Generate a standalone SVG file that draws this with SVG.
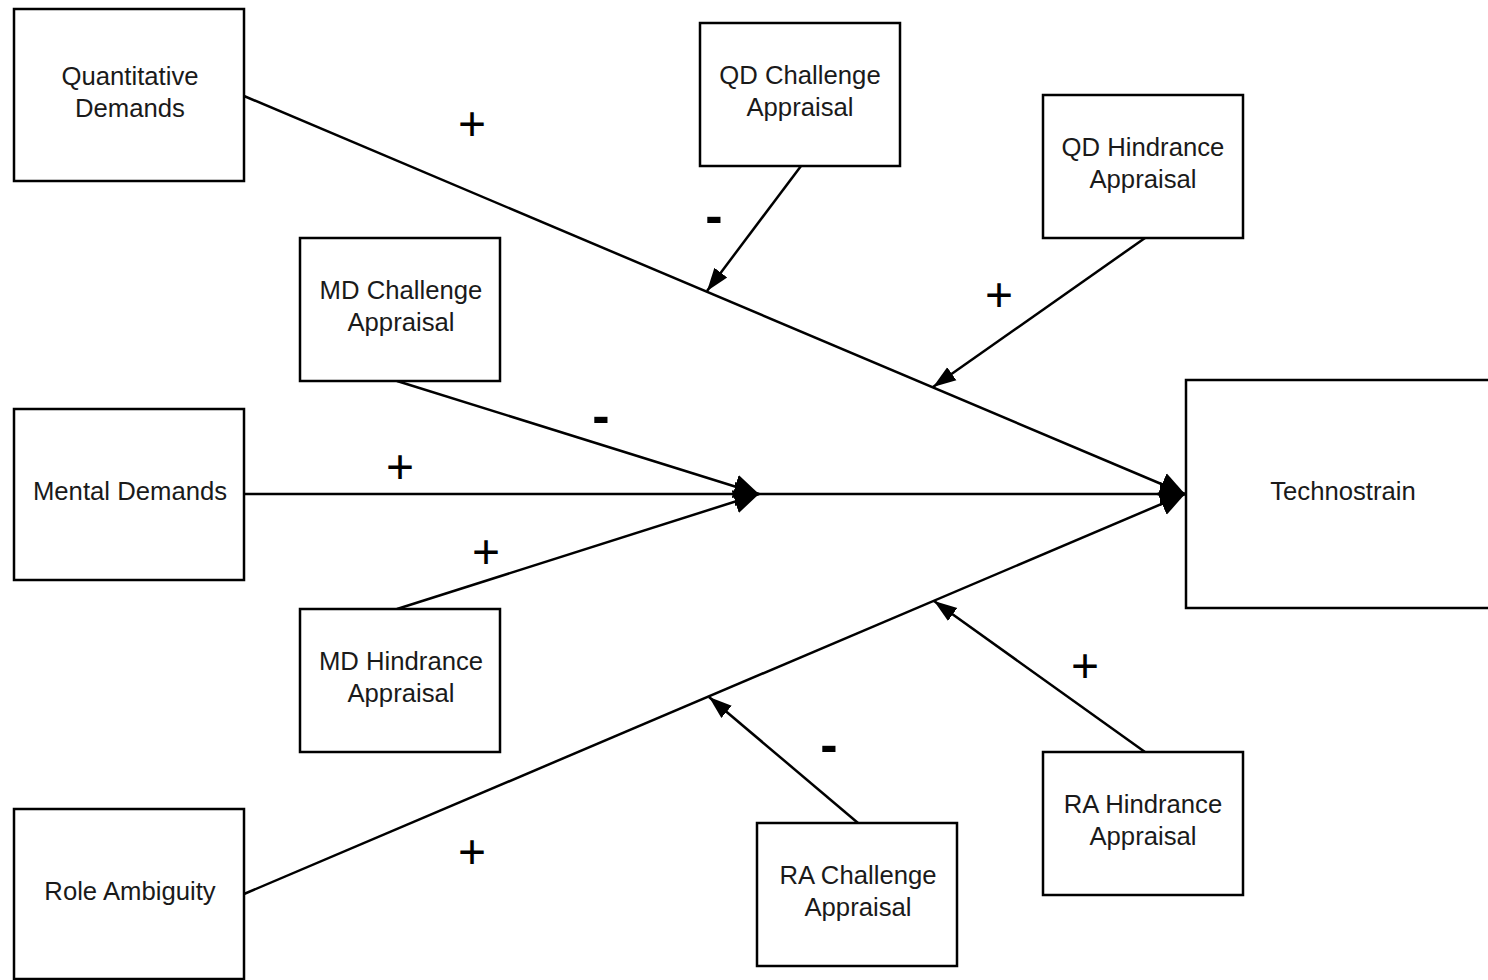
<svg xmlns="http://www.w3.org/2000/svg" width="1488" height="980" viewBox="0 0 1488 980">
<style>
.box{fill:#ffffff;stroke:#000000;stroke-width:2.5}
.lbl{font-family:"Liberation Sans",Arial,sans-serif;font-size:25.7px;fill:#1a1a1a;text-anchor:middle}
.ln{fill:none;stroke:#000000;stroke-width:2.5}
.plus{font-family:"Liberation Sans",Arial,sans-serif;font-size:48px;fill:#000000;text-anchor:middle}
.minus{font-family:"Liberation Sans",Arial,sans-serif;font-size:52px;font-weight:bold;fill:#000000;text-anchor:middle}
</style>
<defs>
<marker id="big" markerUnits="userSpaceOnUse" markerWidth="27" markerHeight="26" refX="25" refY="13" orient="auto">
<path d="M0,1 L25,13 L0,25 Z" fill="#000"/>
</marker>
<marker id="sm" markerUnits="userSpaceOnUse" markerWidth="24" markerHeight="18" refX="23" refY="9" orient="auto">
<path d="M0,1 L23,9 L0,17 Z" fill="#000"/>
</marker>
</defs>
<rect width="1488" height="980" fill="#ffffff"/>
<g id="connectors">
<line class="ln" x1="244" y1="96" x2="1185" y2="494" marker-end="url(#big)"/>
<line class="ln" x1="244" y1="894" x2="1185" y2="494" marker-end="url(#big)"/>
<line class="ln" x1="760" y1="494" x2="1185" y2="494" marker-end="url(#big)"/>
<line class="ln" x1="244" y1="494" x2="760" y2="494" marker-end="url(#big)"/>
<line class="ln" x1="397" y1="381" x2="759" y2="494" marker-end="url(#big)"/>
<line class="ln" x1="397" y1="609" x2="759" y2="494" marker-end="url(#big)"/>
<line class="ln" x1="801" y1="166" x2="707" y2="291" marker-end="url(#sm)"/>
<line class="ln" x1="1145" y1="238" x2="933" y2="387" marker-end="url(#sm)"/>
<line class="ln" x1="858" y1="823" x2="709" y2="697" marker-end="url(#sm)"/>
<line class="ln" x1="1145" y1="752" x2="934" y2="601" marker-end="url(#sm)"/>
<text class="plus" x="472" y="140">+</text>
<text class="minus" x="714" y="233">-</text>
<text class="plus" x="999" y="311">+</text>
<text class="minus" x="601" y="433">-</text>
<text class="plus" x="400" y="483">+</text>
<text class="plus" x="486" y="568">+</text>
<text class="plus" x="1085" y="682">+</text>
<text class="minus" x="829" y="762">-</text>
<text class="plus" x="472" y="868">+</text>
</g>
<g id="quantitative-demands">
<rect class="box" x="14" y="9" width="230" height="172"/>
<text class="lbl" x="130" y="85">Quantitative</text>
<text class="lbl" x="130" y="117">Demands</text>
</g>
<g id="qd-challenge">
<rect class="box" x="700" y="23" width="200" height="143"/>
<text class="lbl" x="800" y="84">QD Challenge</text>
<text class="lbl" x="800" y="116">Appraisal</text>
</g>
<g id="qd-hindrance">
<rect class="box" x="1043" y="95" width="200" height="143"/>
<text class="lbl" x="1143" y="156">QD Hindrance</text>
<text class="lbl" x="1143" y="188">Appraisal</text>
</g>
<g id="md-challenge">
<rect class="box" x="300" y="238" width="200" height="143"/>
<text class="lbl" x="401" y="299">MD Challenge</text>
<text class="lbl" x="401" y="331">Appraisal</text>
</g>
<g id="mental-demands">
<rect class="box" x="14" y="409" width="230" height="171"/>
<text class="lbl" x="130" y="500">Mental Demands</text>
</g>
<g id="md-hindrance">
<rect class="box" x="300" y="609" width="200" height="143"/>
<text class="lbl" x="401" y="670">MD Hindrance</text>
<text class="lbl" x="401" y="702">Appraisal</text>
</g>
<g id="technostrain">
<rect class="box" x="1186" y="380" width="314" height="228"/>
<text class="lbl" x="1343" y="500">Technostrain</text>
</g>
<g id="role-ambiguity">
<rect class="box" x="14" y="809" width="230" height="170"/>
<text class="lbl" x="130" y="900">Role Ambiguity</text>
</g>
<g id="ra-challenge">
<rect class="box" x="757" y="823" width="200" height="143"/>
<text class="lbl" x="858" y="884">RA Challenge</text>
<text class="lbl" x="858" y="916">Appraisal</text>
</g>
<g id="ra-hindrance">
<rect class="box" x="1043" y="752" width="200" height="143"/>
<text class="lbl" x="1143" y="813">RA Hindrance</text>
<text class="lbl" x="1143" y="845">Appraisal</text>
</g>
</svg>
